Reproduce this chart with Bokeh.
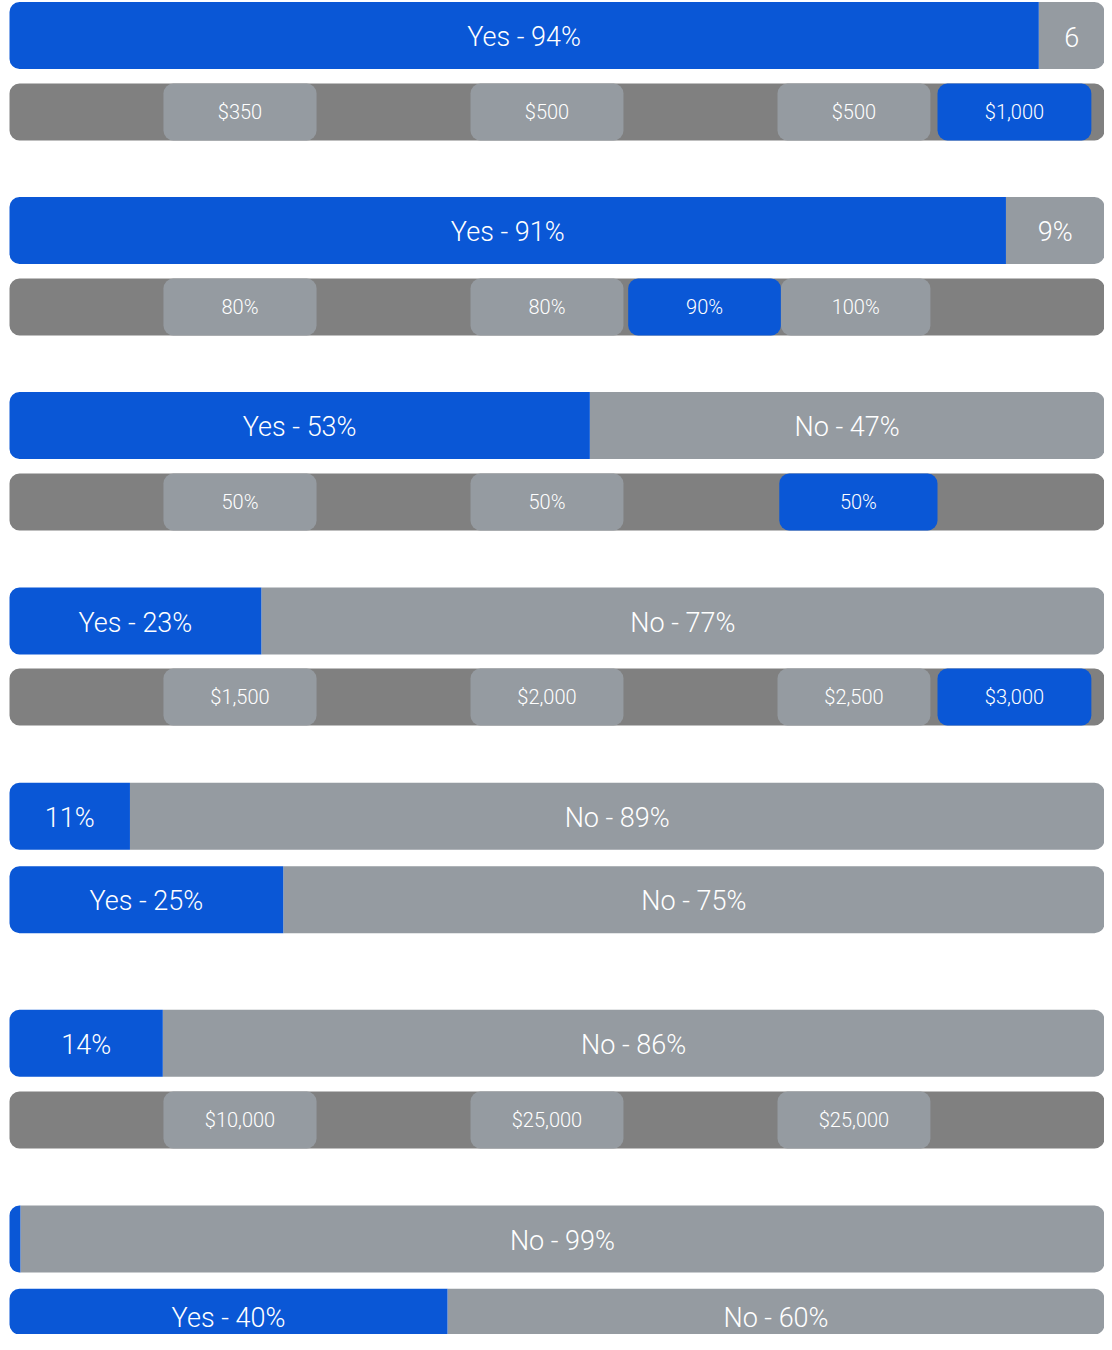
from bokeh.plotting import figure
from bokeh.models import Range1d, ColumnDataSource
from bokeh.core.properties import value
from bokeh.embed import file_html
from bokeh.resources import INLINE

# ---------------- data ----------------
yes_pct = [94, 91, 53, 23, 11, 25, 14, 1, 40]
yes_labels = ["Yes - 94%", "Yes - 91%", "Yes - 53%", "Yes - 23%", "11%",
              "Yes - 25%", "14%", "", "Yes - 40%"]
no_labels = ["6", "9%", "No - 47%", "No - 77%", "No - 89%",
             "No - 75%", "No - 86%", "No - 99%", "No - 60%"]

# tiers shown under some questions
tier_labels = [["$350", "$500", "$500", "$1,000"],
               ["80%", "80%", "90%", "100%"],
               ["50%", "50%", "50%"],
               ["$1,500", "$2,000", "$2,500", "$3,000"],
               ["$10,000", "$25,000", "$25,000"]]
tier_start = [[14.06, 42.1, 70.14, 84.75],
              [14.06, 42.1, 56.5, 70.45],
              [14.06, 42.1, 70.3],
              [14.06, 42.1, 70.14, 84.75],
              [14.06, 42.1, 70.14]]
tier_end = [[28.04, 56.07, 84.1, 98.8],
            [28.04, 56.07, 70.45, 84.1],
            [28.04, 56.07, 84.75],
            [28.04, 56.07, 84.1, 98.8],
            [28.04, 56.07, 84.1]]
tier_selected = [[0, 0, 0, 1],
                 [0, 0, 1, 0],
                 [0, 0, 1],
                 [0, 0, 0, 1],
                 [0, 0, 0]]

# ---------------- layout / style ----------------
BLUE = "#0a57d6"
GRAY = "#959ba1"
DARK = "#808080"
BIG_H = 67
SUB_H = 57
big_tops = [1.5, 196.5, 391.5, 587, 782.3, 865.7, 1009.3, 1205, 1288.3]
sub_tops = [83, 278, 473, 668, 1091]
TRACK_END = 100.1
PX = 10.95  # pixels per percent
X0 = 9      # pixel of 0%
W, H = 1104, 1334
BIG_FS = 27

p = figure(width=W, height=H,
           x_range=Range1d(-X0 / PX, (W - X0) / PX),
           y_range=Range1d(-H, 0),
           output_backend="svg", toolbar_location=None, min_border=0)
p.axis.visible = False
p.grid.visible = False
p.outline_line_color = None
p.background_fill_color = "white"
p.border_fill_color = "white"

# big yes/no bars
yc = [-(t + BIG_H / 2) for t in big_tops]
yes_src = ColumnDataSource(dict(y=yc, left=[0] * len(yes_pct), right=yes_pct))
no_src = ColumnDataSource(dict(y=yc, left=yes_pct, right=[100] * len(yes_pct)))
p.hbar(y="y", left="left", right="right", height=BIG_H, source=no_src,
       fill_color=GRAY, line_color=None, border_radius=(0, 10, 10, 0))
p.hbar(y="y", left="left", right="right", height=BIG_H, source=yes_src,
       fill_color=BLUE, line_color=None, border_radius=(10, 0, 0, 10))

lab_x, lab_y, lab_t = [], [], []
min_y = -(H - BIG_FS / 2 - 3)  # keep labels inside the canvas
for i, v in enumerate(yes_pct):
    ly = max(yc[i] - 1.5, min_y)
    if yes_labels[i]:
        lab_x.append(v / 2); lab_y.append(ly); lab_t.append(yes_labels[i])
    if no_labels[i]:
        lab_x.append((v + 100) / 2); lab_y.append(ly); lab_t.append(no_labels[i])
p.text(x=lab_x, y=lab_y, text=lab_t, text_color="white",
       text_font=value("Roboto Light"), text_font_size=f"{BIG_FS}px",
       text_align="center", text_baseline="middle")

# tier tracks and pills
sy = [-(t + SUB_H / 2) for t in sub_tops]
p.hbar(y=sy, left=[0] * len(sy), right=[TRACK_END] * len(sy), height=SUB_H,
       fill_color=DARK, line_color=None, border_radius=10)

g = dict(y=[], left=[], right=[])
b = dict(y=[], left=[], right=[])
tx, ty, tt = [], [], []
for k in range(len(tier_labels)):
    for j, lab in enumerate(tier_labels[k]):
        d = b if tier_selected[k][j] else g
        d["y"].append(sy[k]); d["left"].append(tier_start[k][j]); d["right"].append(tier_end[k][j])
        tx.append((tier_start[k][j] + tier_end[k][j]) / 2); ty.append(sy[k]); tt.append(lab)
p.hbar(y="y", left="left", right="right", height=SUB_H, source=ColumnDataSource(b),
       fill_color=BLUE, line_color=None, border_radius=10)
p.hbar(y="y", left="left", right="right", height=SUB_H, source=ColumnDataSource(g),
       fill_color=GRAY, line_color=None, border_radius=10)
p.text(x=tx, y=ty, text=tt, text_color="white",
       text_font=value("Roboto Light"), text_font_size="20px",
       text_align="center", text_baseline="middle")

open("out.html", "w").write(file_html(p, INLINE))
